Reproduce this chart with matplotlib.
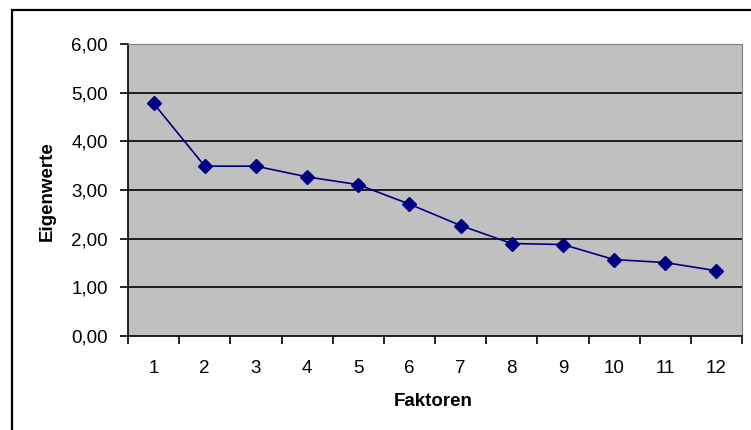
import matplotlib
matplotlib.use("Agg")
import matplotlib.pyplot as plt
from matplotlib.patches import Rectangle
from matplotlib.ticker import FixedLocator, FuncFormatter

factors = list(range(1, 13))
eigenvalues = [4.78, 3.49, 3.49, 3.27, 3.11, 2.71, 2.27, 1.90, 1.88, 1.57, 1.51, 1.34]
y_ticks = [0, 1, 2, 3, 4, 5, 6]

plt.rcParams['font.family'] = ['Liberation Sans', 'DejaVu Sans']

W, H = 751, 430
fig = plt.figure(figsize=(W / 100, H / 100), dpi=100)

# outer chart border (only left and top visible in the crop)
fig.patches.append(Rectangle((11.5 / W, -0.1), 1.0, 1 - 10.5 / H + 0.1,
                             transform=fig.transFigure, fill=False, edgecolor='black',
                             linewidth=1.6, zorder=0))

left, top, right, bottom = 128, 44, 742, 336
ax = fig.add_axes([left / W, 1 - bottom / H, (right - left) / W, (bottom - top) / H])
ax.set_facecolor('#c0c0c0')

ax.set_xlim(0.5, 12.5)
ax.set_ylim(0, 6)

for v in y_ticks[1:]:
    ax.axhline(v, color='black', linewidth=1.2, zorder=1)

ax.plot(factors, eigenvalues, color='#000080', linewidth=1.2, marker='D',
        markersize=7, markerfacecolor='#000080', markeredgecolor='#000080', zorder=3)

ax.yaxis.set_major_locator(FixedLocator(y_ticks))
ax.yaxis.set_major_formatter(FuncFormatter(lambda v, p: f"{v:.2f}".replace('.', ',')))

# x ticks at category boundaries, labels at centers
ax.set_xticks([i + 0.5 for i in range(0, 13)])
ax.set_xticklabels([])
ax.set_xticks(factors, minor=True)
ax.set_xticklabels([str(f) for f in factors], minor=True)
ax.tick_params(axis='x', which='major', direction='out', length=5.5, width=1.2, color='black')
ax.tick_params(axis='x', which='minor', length=0, labelsize=13.5, pad=17)
ax.tick_params(axis='y', direction='out', length=5.5, width=1.2, labelsize=13.5, pad=9)

ax.spines['left'].set_color('black')
ax.spines['left'].set_linewidth(1.2)
ax.spines['bottom'].set_color('black')
ax.spines['bottom'].set_linewidth(1.2)
ax.spines['top'].set_color('#808080')
ax.spines['right'].set_color('#808080')

fig.text(47 / W, 1 - 191.5 / H, 'Eigenwerte', rotation=90, ha='center', va='center',
         fontsize=13.5, fontweight='bold')
fig.text(433 / W, 1 - 401 / H, 'Faktoren', ha='center', va='center',
         fontsize=13.5, fontweight='bold')

fig.savefig('out.png', dpi=100)
